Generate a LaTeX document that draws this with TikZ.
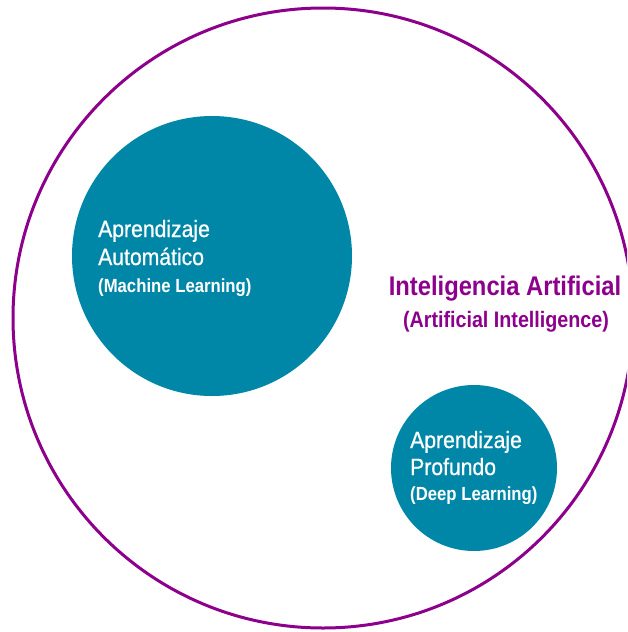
\documentclass[tikz,border=0pt]{standalone}
\usepackage{fontspec}
\setmainfont{Liberation Sans}
\newfontfamily\narrowfont[FakeStretch=0.88]{Liberation Sans}
\newfontfamily\narrowmedium[FakeStretch=0.9,FakeBold=0.7]{Liberation Sans}
\definecolor{aipurple}{RGB}{140,0,140}
\definecolor{mlteal}{RGB}{0,135,168}

\begin{document}
\begin{tikzpicture}[x=1pt,y=-1pt,
    disc/.style={circle,fill=mlteal,inner sep=0pt},
    circtext/.style={anchor=base west,inner sep=0pt,text=white,
      font=\narrowmedium\fontsize{23.5}{28}\selectfont},
    circsub/.style={anchor=base west,inner sep=0pt,text=white,
      font=\narrowfont\bfseries\fontsize{19}{23}\selectfont},
    aititle/.style={anchor=base,inner sep=0pt,text=aipurple,
      font=\narrowfont\bfseries\fontsize{27}{32}\selectfont},
    aisub/.style={anchor=base,inner sep=0pt,text=aipurple,
      font=\narrowfont\bfseries\fontsize{22.4}{27}\selectfont}]
      \useasboundingbox (0,0) rectangle (627,632);
      \clip (0,0) rectangle (627,632);

      % outer circle
      \node[circle,draw=aipurple,line width=3pt,inner sep=0pt,
        minimum size=620pt] (ai) at (323,318) {};

      \node[aititle] (ainame) at (505,295) {Inteligencia Artificial};
      \node[aisub] (aieng) at (506,327) {(Artificial Intelligence)};

      % machine learning
      \node[disc,minimum size=280pt] (ml) at (212,256) {};

      \node[circtext] (mlname) at (98,237) {Aprendizaje};
      \node[circtext] (mlname2) at (98,265) {Automático};
      \node[circsub] (mleng) at (98,292) {(Machine Learning)};

      % deep learning
      \node[disc,minimum size=166pt] (dl) at (474,468) {};

      \node[circtext] (dlname) at (410,448) {Aprendizaje};
      \node[circtext] (dlname2) at (410,475) {Profundo};
      \node[circsub] (dleng) at (410,500) {(Deep Learning)};
    \end{tikzpicture}
\end{document}
